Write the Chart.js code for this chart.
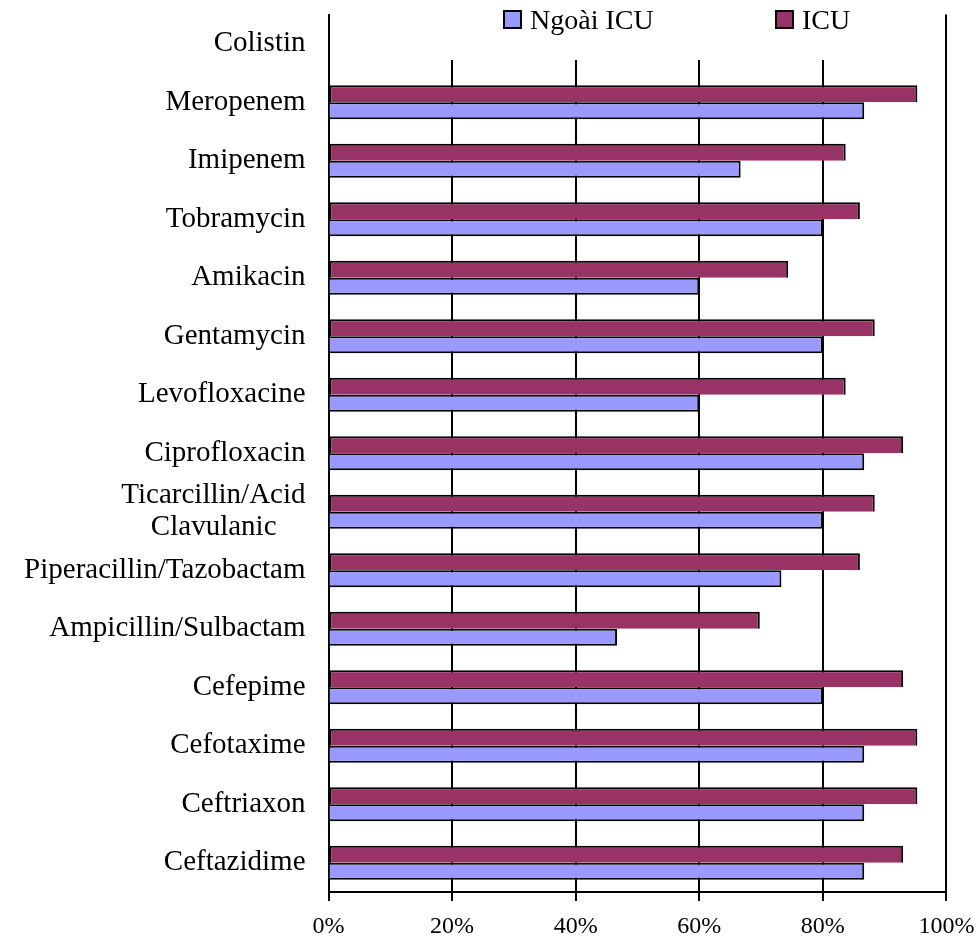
<!DOCTYPE html>
<html>
<head>
<meta charset="utf-8">
<title>Ngoài ICU / ICU</title>
<script src="https://cdn.jsdelivr.net/npm/chart.js@4.4.1/dist/chart.umd.min.js"></script>
<style>
  html, body { margin: 0; padding: 0; background: #ffffff; }
  canvas { display: block; }
</style>
</head>
<body>
<canvas id="chart" width="978" height="939"></canvas>
<script>
// Antibiotics, listed top to bottom
const categories = [
  'Colistin',
  'Meropenem',
  'Imipenem',
  'Tobramycin',
  'Amikacin',
  'Gentamycin',
  'Levofloxacine',
  'Ciprofloxacin',
  ['Ticarcillin/Acid', 'Clavulanic    '],
  'Piperacillin/Tazobactam',
  'Ampicillin/Sulbactam',
  'Cefepime',
  'Cefotaxime',
  'Ceftriaxon',
  'Ceftazidime'
];

// Percentages per antibiotic (Colistin has no bars)
const icuValues      = [null, 95.3, 83.7, 86.0, 74.4, 88.4, 83.7, 93.0, 88.4, 86.0, 69.8, 93.0, 95.3, 95.3, 93.0];
const ngoaiIcuValues = [null, 86.7, 66.7, 80.0, 60.0, 80.0, 60.0, 86.7, 80.0, 73.3, 46.7, 80.0, 86.7, 86.7, 86.7];

const seriesNames = ['Ngoài ICU', 'ICU'];
const xTickValues = [0, 20, 40, 60, 80, 100];

const SERIF = '"Liberation Serif", "Times New Roman", serif';
const COLOR_NGOAI = '#9999FF';
const COLOR_ICU = '#993366';

// Legend drawn over the top of the plot with a white backing
const topLegend = {
  id: 'topLegend',
  afterDraw(chart) {
    const ctx = chart.ctx;
    const area = chart.chartArea;
    ctx.save();
    ctx.fillStyle = '#ffffff';
    ctx.fillRect(area.left + 4, 0, area.right - area.left - 8, 60);

    const items = [
      { text: seriesNames[0], color: COLOR_NGOAI, x: 504 },
      { text: seriesNames[1], color: COLOR_ICU, x: 776 }
    ];
    ctx.font = '28px ' + SERIF;
    ctx.textBaseline = 'alphabetic';
    ctx.textAlign = 'left';
    items.forEach(it => {
      ctx.fillStyle = it.color;
      ctx.fillRect(it.x, 11, 17, 17);
      ctx.lineWidth = 2;
      ctx.strokeStyle = '#000000';
      ctx.strokeRect(it.x, 11, 17, 17);
      ctx.fillStyle = '#000000';
      ctx.fillText(it.text, it.x + 26, 29);
    });
    ctx.restore();
  }
};

new Chart(document.getElementById('chart'), {
  type: 'bar',
  data: {
    labels: categories,
    datasets: [
      {
        label: seriesNames[1],
        data: icuValues,
        backgroundColor: COLOR_ICU,
        borderColor: '#000000',
        borderWidth: 2,
        borderSkipped: 'bottom'
      },
      {
        label: seriesNames[0],
        data: ngoaiIcuValues,
        backgroundColor: COLOR_NGOAI,
        borderColor: '#000000',
        borderWidth: 2,
        borderSkipped: 'left'
      }
    ]
  },
  options: {
    indexAxis: 'y',
    responsive: false,
    animation: false,
    devicePixelRatio: 1,
    layout: { padding: { left: 0, right: 31.6, top: 14.5, bottom: 0 } },
    datasets: {
      bar: { categoryPercentage: 0.58, barPercentage: 1.0 }
    },
    plugins: {
      legend: { display: false },
      tooltip: { enabled: false }
    },
    scales: {
      x: {
        type: 'linear',
        position: 'bottom',
        min: 0,
        max: 100,
        afterBuildTicks(scale) {
          scale.ticks = xTickValues.map(v => ({ value: v }));
        },
        afterFit(scale) {
          scale.height = 47;
          scale.paddingLeft = 0;
          scale.paddingRight = 0;
        },
        grid: {
          color: '#000000',
          lineWidth: 2,
          drawTicks: true,
          tickLength: 9,
          tickColor: '#000000'
        },
        border: { display: true, color: '#000000', width: 2 },
        ticks: {
          color: '#000000',
          font: { family: SERIF, size: 24 },
          padding: 11,
          maxRotation: 0,
          callback: v => v + '%'
        }
      },
      y: {
        type: 'category',
        position: 'left',
        afterFit(scale) {
          scale.width = 328.5;
          scale.paddingTop = 0;
          scale.paddingBottom = 0;
        },
        grid: { display: false },
        border: { display: true, color: '#000000', width: 2 },
        ticks: {
          color: '#000000',
          font: { family: SERIF, size: 29, lineHeight: 1.1 },
          padding: 15,
          autoSkip: false
        }
      }
    }
  },
  plugins: [topLegend]
});
</script>
</body>
</html>
